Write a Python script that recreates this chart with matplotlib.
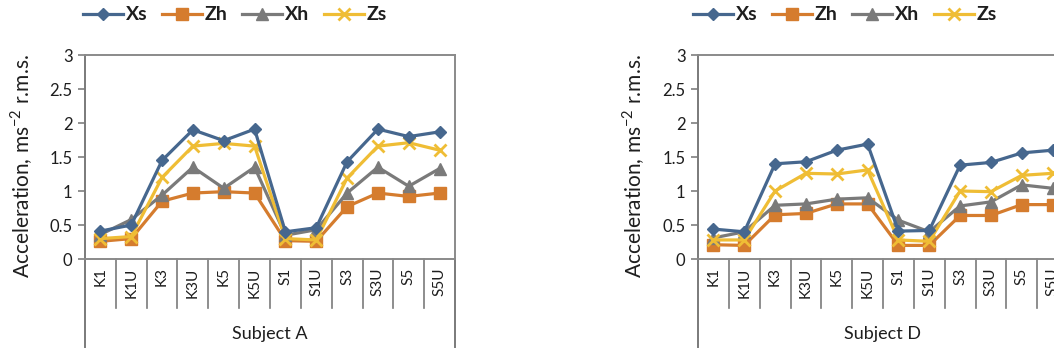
import numpy as np
import matplotlib
matplotlib.use("Agg")
import matplotlib.pyplot as plt
import matplotlib.transforms as mtransforms
from matplotlib.lines import Line2D

plt.rcParams['font.family'] = ['Lato', 'DejaVu Sans']
plt.rcParams['mathtext.fontset'] = 'custom'
plt.rcParams['mathtext.rm'] = 'Lato'

# --- DATA ---
categories = ['K1', 'K1U', 'K3', 'K3U', 'K5', 'K5U', 'S1', 'S1U', 'S3', 'S3U', 'S5', 'S5U']
series_names = ['Xs', 'Zh', 'Xh', 'Zs']

# Subject A
a_xs = [0.41, 0.50, 1.45, 1.90, 1.74, 1.91, 0.40, 0.46, 1.43, 1.91, 1.80, 1.87]
a_zh = [0.26, 0.30, 0.85, 0.97, 0.99, 0.97, 0.27, 0.26, 0.77, 0.97, 0.92, 0.97]
a_xh = [0.36, 0.58, 0.94, 1.35, 1.04, 1.35, 0.35, 0.43, 0.97, 1.35, 1.07, 1.33]
a_zs = [0.30, 0.33, 1.20, 1.66, 1.70, 1.66, 0.30, 0.28, 1.19, 1.66, 1.71, 1.60]

# Subject D
d_xs = [0.44, 0.40, 1.40, 1.43, 1.60, 1.69, 0.41, 0.42, 1.38, 1.42, 1.56, 1.60]
d_zh = [0.21, 0.20, 0.65, 0.67, 0.81, 0.81, 0.20, 0.20, 0.64, 0.64, 0.80, 0.80]
d_xh = [0.31, 0.40, 0.79, 0.81, 0.88, 0.90, 0.57, 0.40, 0.78, 0.84, 1.09, 1.04]
d_zs = [0.28, 0.28, 1.00, 1.26, 1.25, 1.31, 0.28, 0.26, 1.00, 0.99, 1.23, 1.26]

subjects = ['Subject A', 'Subject D']
panels = [[a_xs, a_zh, a_xh, a_zs], [d_xs, d_zh, d_xh, d_zs]]

# --- STYLE ---
colors  = ['#46678E', '#D57C2E', '#7A7A7A', '#EFBD35']
markers = ['D', 's', '^', 'x']
msizes  = [6.5, 8, 8, 8]

W, H = 1054, 354
fig = plt.figure(figsize=(W / 100, H / 100), dpi=100)

def fx(px): return px / W
def fy(py): return 1 - py / H

top_px, zero_px = 55, 259
ax_w = 370
lefts = [85, 698]
ylabel_x = [22, 634]
legend_x = [83, 693]
txt = '#1E1E1E'

for k, (subj, data) in enumerate(zip(subjects, panels)):
    ax = fig.add_axes([fx(lefts[k]), fy(zero_px), fx(ax_w), (zero_px - top_px) / H])
    x = np.arange(len(categories))
    for s, (vals, c, m, ms) in enumerate(zip(data, colors, markers, msizes)):
        ax.plot(x, vals, color=c, lw=2.3, marker=m, ms=ms, mew=2 if m == 'x' else 1,
                mfc=c, mec=c, label=series_names[s], zorder=3 + (s == 0))
    ax.set_xlim(-0.5, len(categories) - 0.5)
    ax.set_ylim(0, 3)
    ax.set_yticks(np.arange(0, 3.01, 0.5))
    ax.set_yticklabels([f'{v:g}' for v in np.arange(0, 3.01, 0.5)])
    ax.tick_params(axis='y', length=5, width=1.2, color='#7F7F7F', labelsize=12,
                   labelcolor=txt, pad=4)
    ax.set_xticks(x)
    ax.set_xticklabels(categories, rotation=90, fontsize=11, color=txt)
    ax.tick_params(axis='x', length=0, pad=6)
    for sp in ax.spines.values():
        sp.set_color('#8A8A8A')
        sp.set_linewidth(1.4)
    ax.spines['left'].set_color('#7A7A7A')

    # multi-level category axis lines
    trans = mtransforms.blended_transform_factory(ax.transData, ax.transAxes)
    sep_bot = -(308 - zero_px) / (zero_px - top_px)
    out_bot = -(347 - zero_px) / (zero_px - top_px)
    for b in np.arange(0.5, len(categories) - 0.5, 1.0):
        ax.add_line(Line2D([b, b], [0, sep_bot], transform=trans, color='#7A7A7A',
                           lw=1.2, clip_on=False))
    for b in [-0.5, len(categories) - 0.5]:
        ax.add_line(Line2D([b, b], [0, out_bot], transform=trans, color='#7A7A7A',
                           lw=1.4, clip_on=False))
    ax.text(0.5, -(334 - zero_px) / (zero_px - top_px), subj, transform=ax.transAxes,
            ha='center', va='center', fontsize=13, color=txt)

    fig.text(fx(ylabel_x[k]), fy(166), r'Acceleration, ms$^{\mathregular{-2}}$ r.m.s.',
             rotation=90, ha='center', va='center', fontsize=15, color=txt)

    handles, labels = ax.get_legend_handles_labels()
    leg = fig.legend(handles, labels, loc='center left',
                     bbox_to_anchor=(fx(legend_x[k]), fy(15)),
                     ncol=4, frameon=False, fontsize=14, handlelength=2.05,
                     handletextpad=0.15, columnspacing=0.75, borderaxespad=0, borderpad=0)
    for t in leg.get_texts():
        t.set_fontweight('bold')
        t.set_color(txt)

fig.savefig('out.png', dpi=100)
